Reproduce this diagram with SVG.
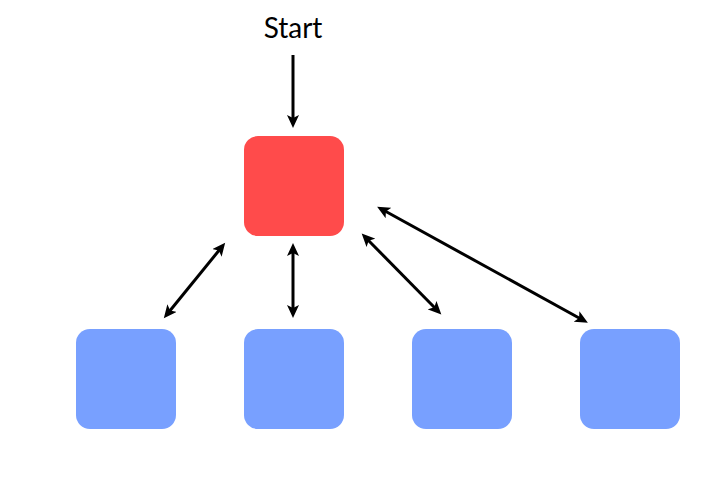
<svg xmlns="http://www.w3.org/2000/svg" width="720" height="480" viewBox="0 0 720 480">
<style>
.red{fill:#ff4b4b}
.blue{fill:#78a0ff}
.conn path{stroke:#000;stroke-width:3;fill:none;marker-start:url(#ah);marker-end:url(#ah)}
.conn path.one{marker-start:none}
text{font-family:"Lato","Open Sans","Liberation Sans",sans-serif;font-size:28px;fill:#000}
</style>
<defs>
<marker id="ah" markerUnits="userSpaceOnUse" markerWidth="14" markerHeight="12" viewBox="0 0 14 12" refX="4" refY="6" orient="auto-start-reverse">
<path d="M0,0 L13,6 L0,12 L3,6 z" fill="#000"/>
</marker>
</defs>
<rect width="720" height="480" fill="#fff"/>
<g id="start"><text x="293" y="38" text-anchor="middle">Start</text></g>
<g id="root"><rect class="red" x="244" y="136" width="100" height="100" rx="14"/></g>
<g id="child1"><rect class="blue" x="76" y="329" width="100" height="100" rx="14"/></g>
<g id="child2"><rect class="blue" x="244" y="329" width="100" height="100" rx="14"/></g>
<g id="child3"><rect class="blue" x="412" y="329" width="100" height="100" rx="14"/></g>
<g id="child4"><rect class="blue" x="580" y="329" width="100" height="100" rx="14"/></g>
<g id="connectors" class="conn">
<path class="one" d="M293,55 L293,119"/>
<path d="M219.5,249.8 L169.5,311.2"/>
<path d="M293,252 L293,309"/>
<path d="M368,240 L435,308"/>
<path d="M385,211 L580,318.5"/>
</g>
</svg>
